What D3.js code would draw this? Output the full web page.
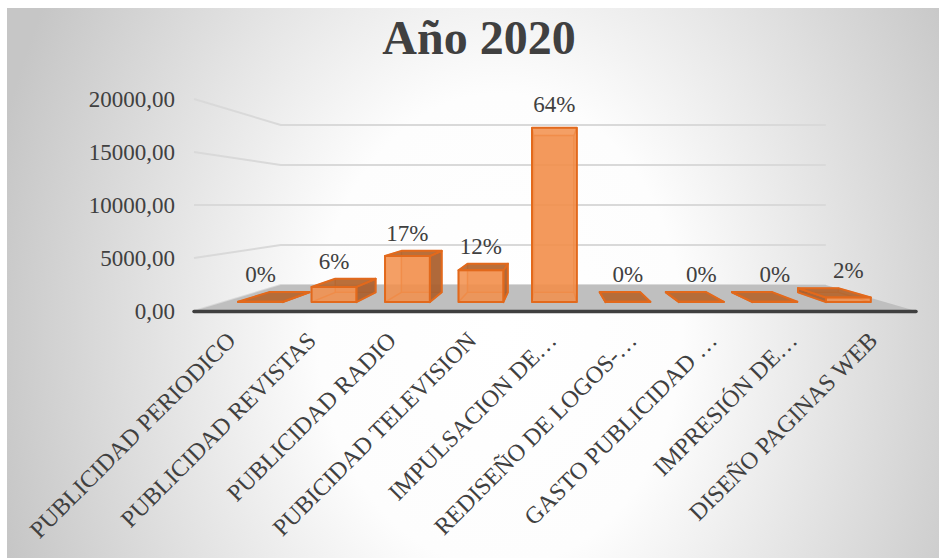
<!DOCTYPE html>
<html>
<head>
<meta charset="utf-8">
<script src="https://cdn.jsdelivr.net/npm/d3@7"></script>
<style>
  html, body { margin: 0; padding: 0; background: #ffffff; }
  svg { display: block; }
</style>
</head>
<body>
<svg id="chart" width="939" height="558"></svg>
<script>
// ---- data ----
const categories = [
  "PUBLICIDAD PERIODICO",
  "PUBLICIDAD REVISTAS",
  "PUBLICIDAD RADIO",
  "PUBICIDAD TELEVISION",
  "IMPULSACION DE…",
  "REDISEÑO DE LOGOS-…",
  "GASTO PUBLICIDAD …",
  "IMPRESIÓN DE…",
  "DISEÑO PAGINAS WEB"
];
const values = [30, 1560, 4750, 3280, 17950, 30, 30, 30, 480];
const yTicks = [0, 5000, 10000, 15000, 20000];
const title = "Año 2020";

// ---- layout ----
const W = 939, H = 558;
const font = "'Liberation Serif', 'Times New Roman', serif";
const textColor = "#404040";

// simple perspective: points on the front plane shrink toward a vanishing point
const vx = 548, vy = 205;
const floorFront = 1, floorBack = 0.755;
const barFront = 0.916, barBack = 0.824;
const proj = (X, Y, s) => [vx + (X - vx) * s, vy + (Y - vy) * s];

const x = d3.scaleBand().domain(categories).range([194, 916])
  .paddingInner(0.39).paddingOuter(0.195);
const y = d3.scaleLinear().domain([0, 20000]).range([311, 99]);

const svg = d3.select("#chart");

// background with radial shading
const defs = svg.append("defs");
const bg = defs.append("radialGradient").attr("id", "bgGrad")
  .attr("gradientUnits", "userSpaceOnUse")
  .attr("cx", 500).attr("cy", 330).attr("r", 520)
  .attr("gradientTransform", "translate(500,330) scale(1,1.3) translate(-500,-330)");
bg.append("stop").attr("offset", 0).attr("stop-color", "#ffffff");
bg.append("stop").attr("offset", 0.35).attr("stop-color", "#fdfdfd");
bg.append("stop").attr("offset", 1).attr("stop-color", "#c6c6c6");

svg.append("rect").attr("x", 7).attr("y", 8).attr("width", W - 7).attr("height", H - 8)
  .attr("fill", "url(#bgGrad)");

// title
svg.append("text")
  .attr("x", 479).attr("y", 54)
  .attr("text-anchor", "middle")
  .attr("font-family", font).attr("font-weight", "bold").attr("font-size", 48)
  .attr("fill", textColor)
  .text(title);

// gridlines along the side wall and the back wall
const [X0r, X1r] = x.range();
const line = d3.line();
svg.append("g").selectAll("path").data(yTicks).join("path")
  .attr("d", t => line([proj(X0r, y(t), floorFront), proj(X0r, y(t), floorBack), proj(X1r, y(t), floorBack)]))
  .attr("fill", "none").attr("stroke", "#d9d9d9").attr("stroke-width", 2);

// floor
svg.append("path")
  .attr("d", line([proj(X0r, y(0), floorFront), proj(X1r, y(0), floorFront),
                   proj(X1r, y(0), floorBack), proj(X0r, y(0), floorBack)]) + "Z")
  .attr("fill", "#bfbfbf");
svg.append("line")
  .attr("x1", X0r).attr("x2", X1r).attr("y1", y(0) + 0.5).attr("y2", y(0) + 0.5)
  .attr("stroke", "#3f3f3f").attr("stroke-width", 3.5).attr("stroke-linecap", "round");

// value axis
const fmtLocale = d3.formatLocale({ decimal: ",", thousands: "", grouping: [3], currency: ["", ""] });
const yAxis = d3.axisLeft(y).tickValues(yTicks).tickSize(0).tickPadding(6)
  .tickFormat(fmtLocale.format(".2f"));
const gy = svg.append("g").attr("transform", "translate(181,0)").call(yAxis);
gy.select(".domain").remove();
gy.selectAll("text").attr("font-family", font).attr("font-size", 23).attr("fill", textColor);

// category axis (labels on the front edge, turned 45°)
const xAxis = d3.axisBottom(x).tickSize(0);
const gx = svg.append("g").attr("transform", "translate(0,0)").call(xAxis);
gx.select(".domain").remove();
gx.selectAll("text")
  .attr("x", null).attr("y", null).attr("dy", null)
  .attr("text-anchor", "end")
  .attr("transform", "translate(3,342) rotate(-45)")
  .attr("font-family", font).attr("font-size", 24).attr("fill", textColor);

// 3D columns
const total = d3.sum(values);
const stroke = "#e2691c";
const bars = svg.append("g");
categories.forEach((c, i) => {
  const v = values[i];
  const X0 = x(c), X1 = x(c) + x.bandwidth();
  const Yt = y(v), Yb = y(0);
  const f = barFront, b = barBack;
  const faces = {
    back:   [[X0, Yt, b], [X1, Yt, b], [X1, Yb, b], [X0, Yb, b]],
    bottom: [[X0, Yb, f], [X1, Yb, f], [X1, Yb, b], [X0, Yb, b]],
    left:   [[X0, Yt, f], [X0, Yt, b], [X0, Yb, b], [X0, Yb, f]],
    right:  [[X1, Yt, f], [X1, Yt, b], [X1, Yb, b], [X1, Yb, f]],
    top:    [[X0, Yt, f], [X1, Yt, f], [X1, Yt, b], [X0, Yt, b]],
    front:  [[X0, Yt, f], [X1, Yt, f], [X1, Yb, f], [X0, Yb, f]]
  };
  const showRight = X1 < vx, showLeft = X0 > vx, showTop = Yt > vy;
  const hidden = ["back", "bottom"];
  if (!showLeft) hidden.push("left");
  if (!showRight) hidden.push("right");
  if (!showTop) hidden.push("top");
  const visible = [];
  if (showLeft) visible.push(["left", "#a9602f", 0.92]);
  if (showRight) visible.push(["right", "#a9602f", 0.92]);
  if (showTop) visible.push(["top", "#b4662f", 0.92]);
  visible.push(["front", "#f28f4c", 0.86]);

  const g = bars.append("g");
  const toPath = pts => line(pts.map(p => proj(p[0], p[1], p[2]))) + "Z";
  hidden.forEach(k => {
    g.append("path").attr("d", toPath(faces[k]))
      .attr("fill", k === "back" ? "#e88545" : "none").attr("fill-opacity", 0.35)
      .attr("stroke", stroke).attr("stroke-opacity", 0.55).attr("stroke-width", 1.4)
      .attr("stroke-linejoin", "round");
  });
  visible.forEach(([k, col, op]) => {
    g.append("path").attr("d", toPath(faces[k]))
      .attr("fill", col).attr("fill-opacity", op)
      .attr("stroke", stroke).attr("stroke-width", 2)
      .attr("stroke-linejoin", "round");
  });

  // percentage label above the column
  const cx = X0 + x.bandwidth() / 2;
  const topY = Math.min(proj(cx, Yt, f)[1], proj(cx, Yt, b)[1]);
  g.append("text")
    .attr("x", proj(cx, Yt, f)[0]).attr("y", topY - (showTop ? 10 : 16))
    .attr("text-anchor", "middle")
    .attr("font-family", font).attr("font-size", 23).attr("fill", textColor)
    .text(Math.round(v / total * 100) + "%");
});
</script>
</body>
</html>
